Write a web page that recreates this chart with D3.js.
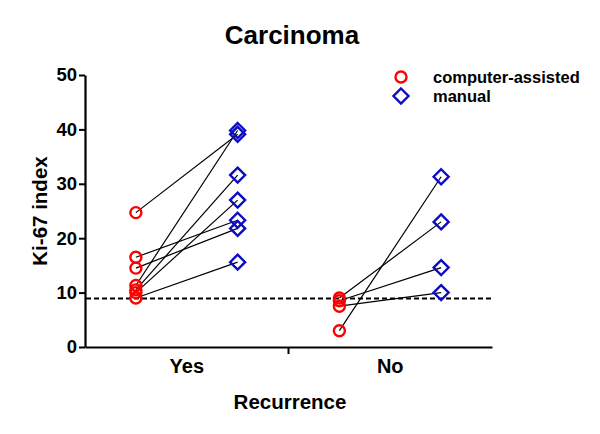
<!DOCTYPE html>
<html><head><meta charset="utf-8">
<script src="https://cdn.jsdelivr.net/npm/d3@7"></script>
<style>body{margin:0;background:#fff}svg{display:block}text{font-family:"Liberation Sans",Arial,sans-serif;font-weight:bold;fill:#000}</style>
</head><body><svg id="c" width="600" height="434"></svg>
<script>
const categories = ["Yes", "No"];
const methods = ["computer-assisted", "manual"];
const computerYes = [24.7, 16.5, 14.5, 11.3, 10.5, 10.0, 9.0];
const manualYes   = [39.1, 23.3, 21.8, 39.8, 31.6, 27.0, 15.6];
const computerNo  = [3.0, 9.0, 8.5, 7.5];
const manualNo    = [31.3, 23.0, 14.6, 10.0];
const cutoff = 8.9;
const yTicks = [0, 10, 20, 30, 40, 50];

const pairs = [
  ...computerYes.map((v, i) => ({cat: "Yes", a: v, b: manualYes[i]})),
  ...computerNo.map((v, i) => ({cat: "No", a: v, b: manualNo[i]}))
];

const svg = d3.select("#c");
const L = 85, R = 492, T = 75, B = 347;
const x = d3.scaleBand().domain(categories).range([L, R]).padding(0);
const xs = d3.scalePoint().domain(methods).range([0, x.bandwidth()]).padding(0.5);
const y = d3.scaleLinear().domain([0, 50]).range([B, T]);
const red = "#ff0000", blue = "#0c0cc4";

// y axis
const ya = svg.append("g").attr("transform", `translate(${L},0)`)
  .call(d3.axisLeft(y).tickValues(yTicks).tickSize(6).tickSizeOuter(0).tickPadding(2));
ya.select(".domain").attr("stroke", "#000").attr("stroke-width", 2.2);
ya.selectAll(".tick line").attr("stroke", "#000").attr("stroke-width", 2);
ya.selectAll(".tick text").style("font-size", "18.5px").style("font-weight", "bold").attr("font-family", null);

// x axis
const xa = svg.append("g").attr("transform", `translate(0,${B})`)
  .call(d3.axisBottom(x).tickSize(0).tickSizeOuter(0).tickPadding(12));
xa.select(".domain").attr("stroke", "#000").attr("stroke-width", 2.2);
xa.selectAll(".tick text").style("font-size", "20px").style("font-weight", "bold").attr("dy", "0.71em");
svg.append("line").attr("x1", x("No")).attr("x2", x("No")).attr("y1", B).attr("y2", B + 7)
  .attr("stroke", "#000").attr("stroke-width", 2);

// cutoff dashed line
svg.append("line").attr("x1", L + 1).attr("x2", R).attr("y1", y(cutoff)).attr("y2", y(cutoff))
  .attr("stroke", "#000").attr("stroke-width", 2).attr("stroke-dasharray", "5,3");

// connecting lines
svg.append("g").selectAll("line").data(pairs).join("line")
  .attr("x1", d => x(d.cat) + xs(methods[0])).attr("y1", d => y(d.a))
  .attr("x2", d => x(d.cat) + xs(methods[1])).attr("y2", d => y(d.b))
  .attr("stroke", "#000").attr("stroke-width", 1.2);

// markers
const diamond = s => `M0,${-s}L${s},0L0,${s}L${-s},0Z`;
svg.append("g").selectAll("circle").data(pairs).join("circle")
  .attr("cx", d => x(d.cat) + xs(methods[0])).attr("cy", d => y(d.a)).attr("r", 5.5)
  .attr("fill", "none").attr("stroke", red).attr("stroke-width", 2.4);
svg.append("g").selectAll("path").data(pairs).join("path")
  .attr("transform", d => `translate(${x(d.cat) + xs(methods[1])},${y(d.b)})`)
  .attr("d", diamond(7.5)).attr("fill", "none").attr("stroke", blue).attr("stroke-width", 2.4);

// titles
svg.append("text").attr("x", 292).attr("y", 44).attr("text-anchor", "middle")
  .style("font-size", "26px").text("Carcinoma");
svg.append("text").attr("x", 290).attr("y", 409).attr("text-anchor", "middle")
  .style("font-size", "20.5px").text("Recurrence");
svg.append("text").attr("transform", "translate(47,211) rotate(-90)").attr("text-anchor", "middle")
  .style("font-size", "20.5px").text("Ki-67 index");

// legend
const lg = svg.append("g");
lg.append("circle").attr("cx", 401).attr("cy", 77).attr("r", 5.5).attr("fill", "none")
  .attr("stroke", red).attr("stroke-width", 2.4);
lg.append("path").attr("transform", "translate(401,96)").attr("d", diamond(7.5))
  .attr("fill", "none").attr("stroke", blue).attr("stroke-width", 2.4);
lg.append("text").attr("x", 433).attr("y", 83).style("font-size", "16.5px").text(methods[0]);
lg.append("text").attr("x", 433).attr("y", 102).style("font-size", "16.5px").text(methods[1]);
</script></body></html>
